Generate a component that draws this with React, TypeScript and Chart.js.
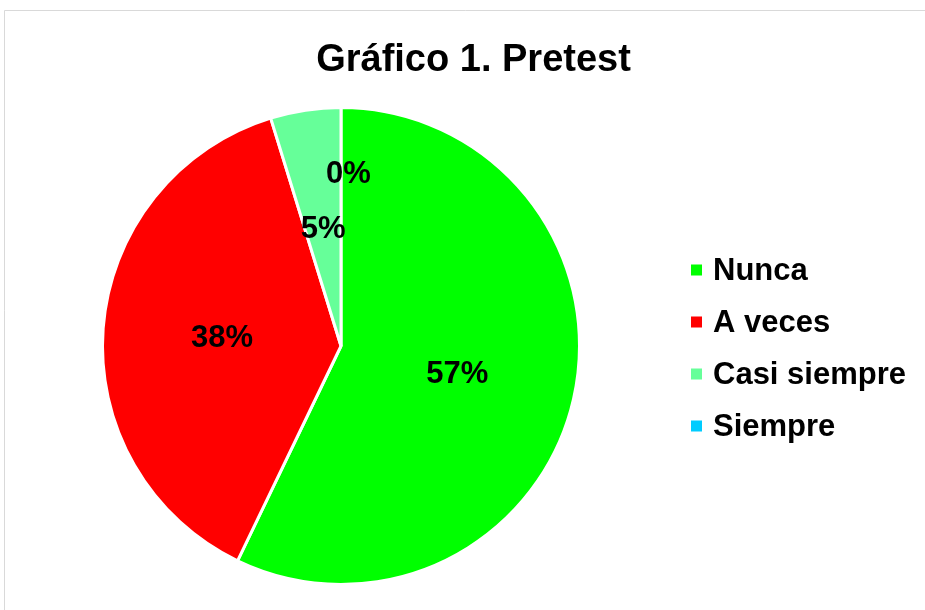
import React, { useEffect, useRef } from "react";
import { Chart, registerables } from "chart.js";

Chart.register(...registerables);

const TITLE = "Gráfico 1. Pretest";
const categories = ["Nunca", "A veces", "Casi siempre", "Siempre"];
const counts = [12, 8, 1, 0];
const percentLabels = ["57%", "38%", "5%", "0%"];
const colors = ["#00FF00", "#FF0000", "#66FF99", "#00CCFF"];

const FONT = "'Liberation Sans', Arial, Helvetica, sans-serif";

const overlayPlugin = {
  id: "overlay",
  beforeDraw(chart: any) {
    const ctx = chart.ctx;
    ctx.save();
    ctx.fillStyle = "#ffffff";
    ctx.fillRect(0, 0, chart.width, chart.height);
    ctx.strokeStyle = "#d9d9d9";
    ctx.lineWidth = 1;
    ctx.beginPath();
    ctx.moveTo(4.5, chart.height + 5);
    ctx.lineTo(4.5, 10.5);
    ctx.lineTo(chart.width + 5, 10.5);
    ctx.stroke();
    ctx.restore();
  },
  afterDraw(chart: any) {
    const ctx = chart.ctx;
    ctx.save();
    // title
    ctx.fillStyle = "#000000";
    ctx.font = `bold 38px ${FONT}`;
    ctx.textAlign = "center";
    ctx.textBaseline = "alphabetic";
    ctx.fillText(TITLE, 473.5, 71);

    // data labels
    const meta = chart.getDatasetMeta(0);
    ctx.font = `bold 31px ${FONT}`;
    ctx.textBaseline = "middle";
    meta.data.forEach((arc: any, i: number) => {
      const p = arc.getProps(["x", "y", "startAngle", "endAngle", "outerRadius"], true);
      const mid = (p.startAngle + p.endAngle) / 2;
      const value = chart.data.datasets[0].data[i];
      let r = p.outerRadius * 0.5;
      let dx = 0;
      if (value === 0) {
        r = p.outerRadius * 0.725;
        dx = 7.5;
      }
      const x = p.x + Math.cos(mid) * r + dx;
      const y = p.y + Math.sin(mid) * r + 1.5;
      ctx.fillText(percentLabels[i], x, y);
    });

    // legend
    ctx.font = `bold 31px ${FONT}`;
    ctx.textAlign = "left";
    ctx.textBaseline = "middle";
    chart.data.labels.forEach((label: string, i: number) => {
      const cy = 270 + i * 52;
      ctx.fillStyle = chart.data.datasets[0].backgroundColor[i];
      ctx.fillRect(691, cy - 5.5, 11, 11);
      ctx.fillStyle = "#000000";
      ctx.fillText(label, 713, cy + 1);
    });
    ctx.restore();
  },
};

export default function App() {
  const ref = useRef<HTMLCanvasElement | null>(null);
  useEffect(() => {
    if (!ref.current) return;
    const chart = new Chart(ref.current, {
      type: "pie",
      data: {
        labels: categories,
        datasets: [
          {
            data: counts,
            backgroundColor: colors,
            borderColor: "#ffffff",
            borderWidth: 3,
          },
        ],
      },
      options: {
        responsive: false,
        animation: false,
        devicePixelRatio: 1,
        layout: { padding: { left: 101, top: 106, right: 344, bottom: 24 } },
        plugins: {
          legend: { display: false },
          title: { display: false },
          tooltip: { enabled: false },
        },
      },
      plugins: [overlayPlugin],
    });
    return () => chart.destroy();
  }, []);
  return (
    <div style={{ position: "fixed", left: 0, top: 0, width: 925, height: 610, background: "#fff" }}>
      <canvas ref={ref} width={925} height={610} style={{ display: "block" }} />
    </div>
  );
}
